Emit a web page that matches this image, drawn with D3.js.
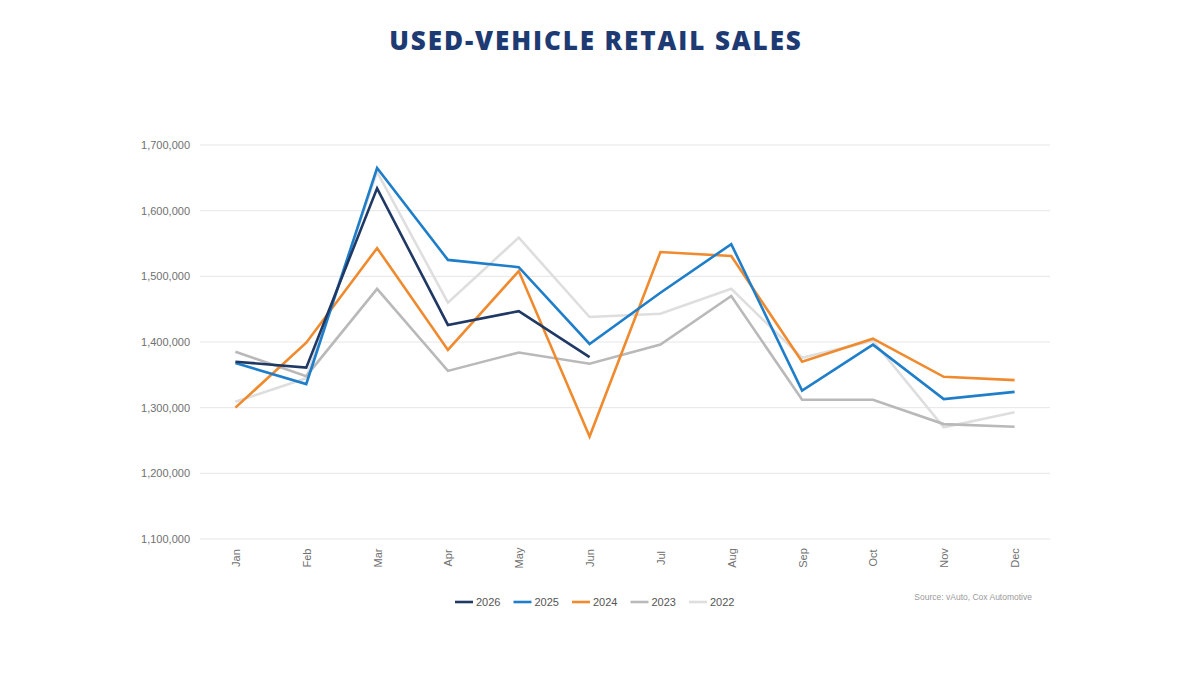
<!DOCTYPE html>
<html>
<head>
<meta charset="utf-8">
<script src="https://cdn.jsdelivr.net/npm/d3@7"></script>
<style>
  body { margin: 0; background: #fff; }
  #chart { width: 1200px; height: 675px; }
</style>
</head>
<body>
<div id="chart"></div>
<script>
//Datos
const months = ['Jan','Feb','Mar','Apr','May','Jun','Jul','Aug','Sep','Oct','Nov','Dec'];
const years = ['2026','2025','2024','2023','2022'];
const sales2026 = [1370000,1361000,1634000,1426000,1447000,1377000];
const sales2025 = [1368000,1336000,1665000,1525000,1514000,1397000,1475000,1549000,1326000,1396000,1313000,1324000];
const sales2024 = [1300000,1399000,1543000,1388000,1508000,1256000,1537000,1531000,1370000,1405000,1347000,1342000];
const sales2023 = [1385000,1348000,1481000,1356000,1384000,1367000,1396000,1470000,1312000,1312000,1275000,1271000];
const sales2022 = [1309000,1345000,1659000,1460000,1559000,1438000,1443000,1481000,1376000,1402000,1270000,1293000];
const yTicks = [1100000,1200000,1300000,1400000,1500000,1600000,1700000];

//Colores
const COLORS = {'2026':'#1f3864','2025':'#1f7ec9','2024':'#f08a2e','2023':'#b9b9b9','2022':'#dedede'};

const seriesData = {'2026':sales2026,'2025':sales2025,'2024':sales2024,'2023':sales2023,'2022':sales2022};

let margin = {top: 145, right: 150, bottom: 136, left: 200},
    width = 1200 - margin.left - margin.right,
    height = 675 - margin.top - margin.bottom;

let svg = d3.select('#chart').append('svg')
    .attr('width', 1200).attr('height', 675);

//Título
svg.append('text')
    .attr('x', 596).attr('y', 50)
    .attr('text-anchor', 'middle')
    .attr('font-family', 'Open Sans, sans-serif')
    .attr('font-weight', 800)
    .attr('font-size', 26)
    .attr('letter-spacing', 1.9)
    .attr('fill', '#1e3a73')
    .text('USED-VEHICLE RETAIL SALES');

let g = svg.append('g')
    .attr('transform', 'translate(' + margin.left + ',' + margin.top + ')');

let x = d3.scalePoint().domain(months).range([0, width]).padding(0.5);
let y = d3.scaleLinear().domain([1100000, 1700000]).range([height, 0]);

//Rejilla
g.append('g').selectAll('line').data(yTicks).enter().append('line')
    .attr('x1', 0).attr('x2', width)
    .attr('y1', d => y(d)).attr('y2', d => y(d))
    .attr('stroke', '#e6e6e6').attr('stroke-width', 1);

//Eje Y
let yAxis = g.append('g')
    .call(d3.axisLeft(y).tickValues(yTicks).tickFormat(d3.format(',')).tickSize(0).tickPadding(10));
yAxis.select('.domain').remove();
yAxis.selectAll('text')
    .attr('font-family', 'Liberation Sans, Arial, sans-serif')
    .attr('font-size', 11).attr('fill', '#707070');

//Eje X
let xAxis = g.append('g')
    .attr('transform', 'translate(0,' + height + ')')
    .call(d3.axisBottom(x).tickSize(0));
xAxis.select('.domain').remove();
xAxis.selectAll('text')
    .attr('font-family', 'Liberation Sans, Arial, sans-serif')
    .attr('font-size', 11).attr('fill', '#707070')
    .attr('text-anchor', 'middle')
    .attr('dy', null).attr('y', 0)
    .attr('transform', 'translate(4,19) rotate(-90)');

//Líneas
let line = d3.line()
    .x((d, i) => x(months[i]))
    .y(d => y(d));

years.slice().reverse().forEach(function(yr) {
    g.append('path')
        .datum(seriesData[yr])
        .attr('fill', 'none')
        .attr('stroke', COLORS[yr])
        .attr('stroke-width', 2.6)
        .attr('stroke-linejoin', 'miter')
        .attr('d', line);
});

//Leyenda
let legend = svg.append('g').attr('transform', 'translate(455,602)');
years.forEach(function(yr, i) {
    let item = legend.append('g').attr('transform', 'translate(' + (i * 58.5) + ',0)');
    item.append('line')
        .attr('x1', 0).attr('x2', 18).attr('y1', 0).attr('y2', 0)
        .attr('stroke', COLORS[yr]).attr('stroke-width', 2.6);
    item.append('text')
        .attr('x', 21).attr('y', 4)
        .attr('font-family', 'Liberation Sans, Arial, sans-serif')
        .attr('font-size', 11).attr('fill', '#555')
        .text(yr);
});

//Fuente
svg.append('text')
    .attr('x', 1032).attr('y', 600)
    .attr('text-anchor', 'end')
    .attr('font-family', 'Liberation Sans, Arial, sans-serif')
    .attr('font-size', 8.5).attr('fill', '#9a9a9a')
    .text('Source: vAuto, Cox Automotive');
</script>
</body>
</html>
